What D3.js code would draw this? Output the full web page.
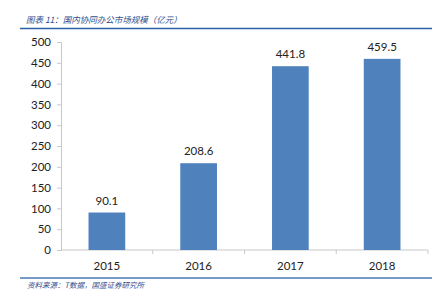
<!DOCTYPE html>
<html>
<head>
<meta charset="utf-8">
<script src="https://cdn.jsdelivr.net/npm/d3@7"></script>
<style>
  body { margin: 0; background: #fff; }
  svg { display: block; }
</style>
</head>
<body>
<div id="chart"></div>
<script>
// Data
const years = ['2015', '2016', '2017', '2018']
const marketSize = [90.1, 208.6, 441.8, 459.5]
const yTicks = [0, 50, 100, 150, 200, 250, 300, 350, 400, 450, 500]
const titleText = '图表 11：国内协同办公市场规模（亿元）'
const sourceText = '资料来源：T数据，国盛证券研究所'

// Dimensions
const width = 437
const height = 293
const plot = { left: 61, right: 428, top: 42, bottom: 250 }

const svg = d3.select('#chart')
  .append('svg')
  .attr('width', width)
  .attr('height', height)

// Scales
const x = d3.scaleBand()
  .domain(years)
  .range([plot.left, plot.right])
  .paddingInner(0.6)
  .paddingOuter(0.3)

const y = d3.scaleLinear()
  .domain([0, 500])
  .range([plot.bottom, plot.top])

// header and footer
svg.append('text')
  .attr('x', 26).attr('y', 23)
  .attr('font-family', '"Noto Sans CJK SC", sans-serif')
  .attr('font-size', 8.5)
  .attr('font-style', 'italic')
  .attr('fill', '#2f4f8f')
  .text(titleText)

svg.append('line')
  .attr('x1', 20).attr('x2', 432)
  .attr('y1', 28.5).attr('y2', 28.5)
  .attr('stroke', '#2e5fa8')
  .attr('stroke-width', 1.5)

svg.append('line')
  .attr('x1', 20).attr('x2', 432)
  .attr('y1', 278).attr('y2', 278)
  .attr('stroke', '#4a78b5')
  .attr('stroke-width', 1.5)

svg.append('text')
  .attr('x', 27).attr('y', 288)
  .attr('font-family', '"Noto Sans CJK SC", sans-serif')
  .attr('font-size', 7.5)
  .attr('font-style', 'italic')
  .attr('fill', '#2f4f8f')
  .text(sourceText)

// Axes
const yAxis = svg.append('g')
  .attr('transform', `translate(${plot.left},0)`)
  .call(d3.axisLeft(y).tickValues(yTicks).tickSize(4).tickPadding(6))
yAxis.select('.domain').attr('stroke', '#c8c8c8')
yAxis.selectAll('.tick line').attr('stroke', '#c8c8c8')
yAxis.selectAll('text')
  .attr('font-family', 'Lato, "Open Sans", sans-serif')
  .attr('font-size', 11.5)
  .attr('fill', '#222')

// category axis: ticks at band boundaries
const xAxis = svg.append('g')
  .attr('transform', `translate(0,${plot.bottom})`)
xAxis.append('line')
  .attr('x1', plot.left).attr('x2', plot.right)
  .attr('stroke', '#c8c8c8')
const step = x.step()
xAxis.selectAll('.xtick')
  .data(years)
  .join('line')
  .attr('class', 'xtick')
  .attr('x1', d => x(d) + x.bandwidth() / 2 + step / 2)
  .attr('x2', d => x(d) + x.bandwidth() / 2 + step / 2)
  .attr('y1', 0).attr('y2', 4)
  .attr('stroke', '#c8c8c8')
xAxis.selectAll('.xlabel')
  .data(years)
  .join('text')
  .attr('class', 'xlabel')
  .attr('x', d => x(d) + x.bandwidth() / 2)
  .attr('y', 20)
  .attr('text-anchor', 'middle')
  .attr('font-family', 'Lato, "Open Sans", sans-serif')
  .attr('font-size', 11.5)
  .attr('fill', '#222')
  .text(d => d)

// Bars
const data = years.map((yr, i) => ({ year: yr, value: marketSize[i] }))

svg.append('g')
  .selectAll('rect')
  .data(data)
  .join('rect')
  .attr('x', d => x(d.year))
  .attr('y', d => y(d.value))
  .attr('width', x.bandwidth())
  .attr('height', d => y(0) - y(d.value))
  .attr('fill', '#4f81bd')

// value labels
svg.append('g')
  .selectAll('text')
  .data(data)
  .join('text')
  .attr('x', d => x(d.year) + x.bandwidth() / 2)
  .attr('y', d => y(d.value) - 8)
  .attr('text-anchor', 'middle')
  .attr('font-family', 'Lato, "Open Sans", sans-serif')
  .attr('font-size', 11.5)
  .attr('fill', '#222')
  .text(d => d.value.toFixed(1))
</script>
</body>
</html>
